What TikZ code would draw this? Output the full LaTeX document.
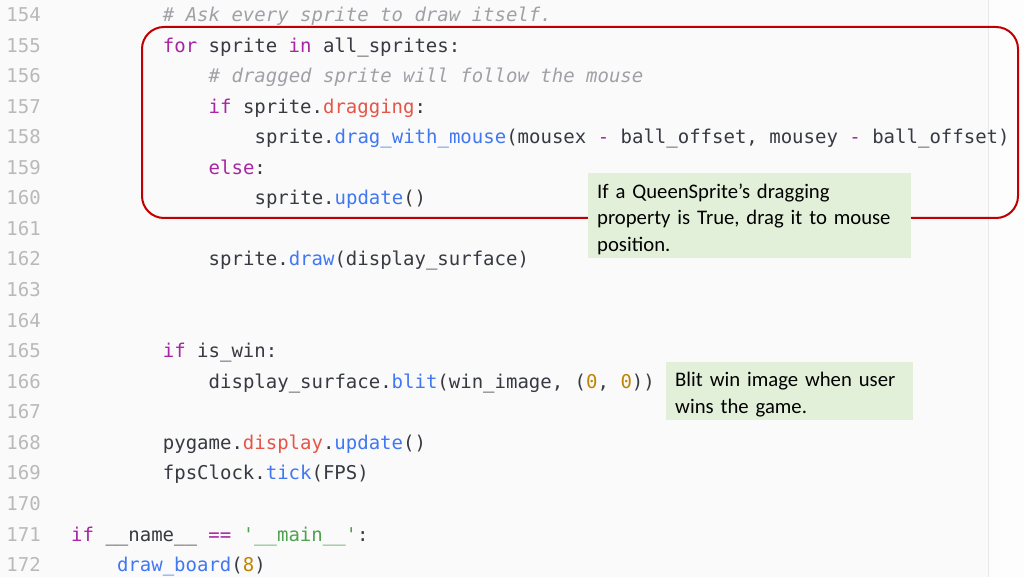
\documentclass[tikz,border=0pt]{standalone}
\usepackage{fontspec}
\setmainfont{Carlito}
\setmonofont{DejaVu Sans Mono}
\definecolor{bggray}{RGB}{250,250,250}
\definecolor{sepgray}{RGB}{232,232,232}
\definecolor{lnumgray}{RGB}{185,185,185}
\definecolor{txt}{RGB}{56,58,66}
\definecolor{kw}{RGB}{166,38,164}
\definecolor{fn}{RGB}{64,120,242}
\definecolor{attr}{RGB}{228,86,73}
\definecolor{num}{RGB}{193,132,1}
\definecolor{str}{RGB}{80,161,79}
\definecolor{cmt}{RGB}{160,161,167}
\definecolor{calloutred}{RGB}{192,0,0}
\definecolor{notegreen}{RGB}{226,240,217}

\begin{document}
\begin{tikzpicture}[
    x=1pt, y=-1pt,
    code/.style={anchor=base west, inner sep=0pt, text=txt, font=\ttfamily\fontsize{19}{19}\selectfont},
    lnum/.style={anchor=base east, inner sep=0pt, text=lnumgray, font=\ttfamily\fontsize{19}{19}\selectfont},
    callout/.style={draw=calloutred, line width=2pt, rounded corners=22pt},
    note/.style={fill=notegreen, anchor=north west, align=left, inner xsep=9pt, inner ysep=0pt, font=\fontsize{20.7}{26.5}\selectfont},
]
\useasboundingbox (0,0) rectangle (1024,577);
\fill[bggray] (0,0) rectangle (1024,577);
\fill[white!60!bggray] (988,0) rectangle (1024,577);
\draw[sepgray, line width=1pt] (988,0) -- (988,577);

% line numbers
\foreach \n in {154,...,172}
    \node[lnum] (ln\n) at (41,{21.5+30.56*(\n-154)}) {\n};

% indent columns
\coordinate (ind0)  at (71,0);
\coordinate (ind4)  at (116.8,0);
\coordinate (ind8)  at (162.7,0);
\coordinate (ind12) at (208.5,0);
\coordinate (ind16) at (254.4,0);

\node[code, text=cmt] (c154) at (ind8 |- ln154.base) {\itshape \# Ask every sprite to draw itself.};
\node[code] (c155) at (ind8 |- ln155.base) {\textcolor{kw}{for} sprite \textcolor{kw}{in} all\_sprites:};
\node[code, text=cmt] (c156) at (ind12 |- ln156.base) {\itshape \# dragged sprite will follow the mouse};
\node[code] (c157) at (ind12 |- ln157.base) {\textcolor{kw}{if} sprite.\textcolor{attr}{dragging}:};
\node[code] (c158) at (ind16 |- ln158.base) {sprite.\textcolor{fn}{drag\_with\_mouse}(mousex \textcolor{kw}{-} ball\_offset, mousey \textcolor{kw}{-} ball\_offset)};
\node[code] (c159) at (ind12 |- ln159.base) {\textcolor{kw}{else}:};
\node[code] (c160) at (ind16 |- ln160.base) {sprite.\textcolor{fn}{update}()};
\node[code] (c162) at (ind12 |- ln162.base) {sprite.\textcolor{fn}{draw}(display\_surface)};
\node[code] (c165) at (ind8 |- ln165.base) {\textcolor{kw}{if} is\_win:};
\node[code] (c166) at (ind12 |- ln166.base) {display\_surface.\textcolor{fn}{blit}(win\_image, (\textcolor{num}{0}, \textcolor{num}{0}))};
\node[code] (c168) at (ind8 |- ln168.base) {pygame.\textcolor{attr}{display}.\textcolor{fn}{update}()};
\node[code] (c169) at (ind8 |- ln169.base) {fpsClock.\textcolor{fn}{tick}(FPS)};
\node[code] (c171) at (ind0 |- ln171.base) {\textcolor{kw}{if} \_\_name\_\_ \textcolor{kw}{==} \textcolor{str}{'\_\_main\_\_'}:};
\node[code] (c172) at (ind4 |- ln172.base) {\textcolor{fn}{draw\_board}(\textcolor{num}{8})};

% callout round the loop
\draw[callout] (142,27) rectangle (1018,218);

% notes
\node[note, text width=305pt, minimum height=85pt] (dragnote) at (588,173)
    {\rule{0pt}{21pt}If a QueenSprite’s dragging\\property is True, drag it to mouse\\position.};
\node[note, text width=229pt, minimum height=58pt] (winnote) at (666,362)
    {\rule{0pt}{21pt}Blit win image when user\\wins the game.};
\end{tikzpicture}
\end{document}
